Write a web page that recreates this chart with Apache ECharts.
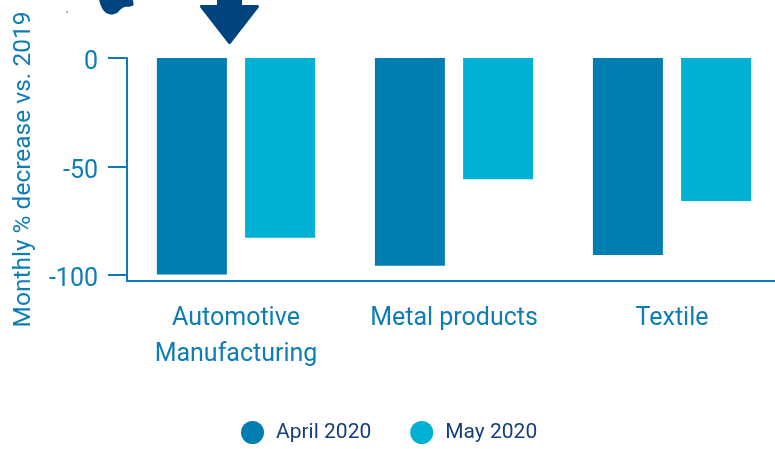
<!DOCTYPE html>
<html>
<head>
<meta charset="utf-8">
<script src="https://cdn.jsdelivr.net/npm/echarts@6/dist/echarts.min.js"></script>
<style>
  html, body { margin: 0; padding: 0; background: #ffffff; }
  #chart { width: 775px; height: 449px; }
</style>
</head>
<body>
<div id="chart"></div>
<script>
// Industrial output change by sector, spring 2020
const categories = ['Automotive\nManufacturing', 'Metal products', 'Textile'];
const april2020 = [-100, -96, -91];
const may2020 = [-83, -56, -66];
const yTicks = [0, -50, -100];

const axisColor = '#0b7cb3';
const textColor = '#0e7db5';
const navy = '#00447f';

const chart = echarts.init(document.getElementById('chart'), null, { renderer: 'canvas' });

chart.setOption({
  animation: false,
  textStyle: { fontFamily: 'Roboto' },
  grid: { left: 127, width: 654, top: 58, height: 223, containLabel: false, outerBoundsMode: 'none' },
  legend: {
    left: 236,
    top: 416,
    icon: 'circle',
    itemWidth: 23,
    itemHeight: 23,
    itemGap: 39,
    textStyle: { fontFamily: 'Roboto', fontSize: 21, color: '#163f7c', padding: [0, 0, 0, 7] },
    data: ['April 2020', 'May 2020']
  },
  xAxis: {
    type: 'category',
    data: categories,
    position: 'bottom',
    axisLine: { onZero: false, lineStyle: { color: axisColor, width: 2 } },
    axisTick: { alignWithLabel: true, length: 18, lineStyle: { color: axisColor, width: 2 } },
    axisLabel: { interval: 0, fontFamily: 'Roboto', fontSize: 25, lineHeight: 36, color: textColor, margin: 20 },
    splitLine: { show: false }
  },
  yAxis: {
    type: 'value',
    min: -103,
    max: 0,
    name: 'Monthly % decrease vs. 2019',
    nameLocation: 'middle',
    nameGap: 91,
    nameTextStyle: { fontFamily: 'Roboto', fontSize: 24.5, color: textColor },
    axisLine: { show: true, lineStyle: { color: axisColor, width: 2 } },
    axisTick: { show: true, length: 19, customValues: yTicks, lineStyle: { color: axisColor, width: 2 } },
    axisLabel: {
      fontFamily: 'Roboto', fontSize: 25, color: textColor, margin: 29,
      customValues: yTicks,
      formatter: '{v|{value}}',
      rich: { v: { fontFamily: 'Roboto', fontSize: 25, color: textColor, padding: [10, 0, 0, 0] } }
    },
    splitLine: { show: false }
  },
  series: [
    {
      name: 'April 2020',
      type: 'bar',
      data: april2020,
      barWidth: 70,
      barGap: '26%',
      itemStyle: { color: '#007db1' }
    },
    {
      name: 'May 2020',
      type: 'bar',
      data: may2020,
      barWidth: 70,
      itemStyle: { color: '#00b1d3' }
    }
  ],
  graphic: [
    {
      // downward arrow above the automotive group
      type: 'polygon',
      shape: {
        points: [[218.5, -5], [240.5, -5], [240.5, 6.5], [257.5, 6.5], [229.5, 42.5], [201.5, 6.5], [218.5, 6.5]]
      },
      style: { fill: navy, stroke: navy, lineWidth: 3, lineJoin: 'round' }
    },
    {
      // lower edge of the globe icon
      type: 'polygon',
      shape: {
        points: [[100, -2], [101, 6], [105, 12], [111, 14.5], [117, 13], [121, 9], [125, 7], [130, 6.5], [133.5, 5], [131, -2]],
        smooth: 0.3
      },
      style: { fill: navy }
    },
    {
      type: 'rect',
      shape: { x: 66.5, y: 11.5, width: 1.2, height: 1.2 },
      style: { fill: navy }
    }
  ]
});
</script>
</body>
</html>
